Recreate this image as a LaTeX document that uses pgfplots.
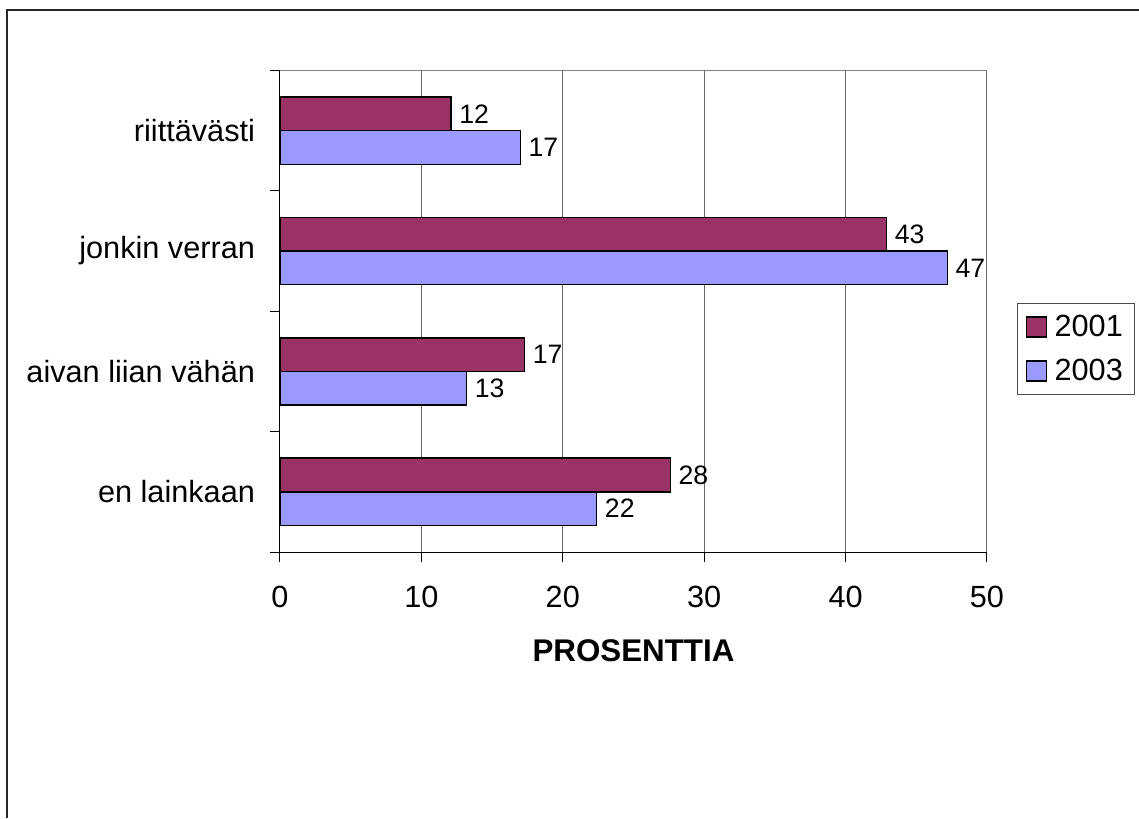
\documentclass[border=0pt]{standalone}
\usepackage{fontspec}
\setmainfont{Liberation Sans}
\usepackage{pgfplots}
\pgfplotsset{compat=1.18}
\definecolor{c2001}{HTML}{993366}
\definecolor{c2003}{HTML}{9999FF}
\begin{document}
\begin{tikzpicture}
\path[use as bounding box] (0pt,0pt) rectangle (683.4pt,490.8pt);
\draw[black!85,line width=0.8pt] (4.2pt,0pt) -- (4.2pt,484.8pt) -- (683.4pt,484.8pt);
\begin{axis}[
  at={(168pt,159.6pt)}, anchor=south west,
  scale only axis, width=424.2pt, height=288.9pt,
  xbar, bar width=20.2pt,
  xmin=0, xmax=50, ymin=-0.5, ymax=3.5,
  axis lines*=left,
  axis line style={black, line width=0.6pt},
  xtick={0,10,20,30,40,50},
  xmajorgrids, grid style={black!60, line width=0.6pt},
  tick align=outside, major tick length=6pt,
  tick style={black, line width=0.6pt},
  ytick={-0.5,0.5,1.5,2.5,3.5}, yticklabels={},
  extra y ticks={0,1,2,3},
  extra y tick labels={en lainkaan, aivan liian vähän, jonkin verran, riittävästi},
  extra y tick style={tick style={draw=none}},
  ticklabel style={font=\fontsize{18.4}{21}\selectfont},
  yticklabel style={xshift=-5.5pt},
  xticklabel style={yshift=-11pt},
  /pgf/number format/assume math mode=true,
  xlabel={\textbf{PROSENTTIA}},
  xlabel style={font=\fontsize{18.8}{21}\selectfont, yshift=-12pt},
  nodes near coords={\pgfmathprintnumber[fixed,precision=0]{\pgfplotspointmeta}},
  nodes near coords style={font=\fontsize{16}{18}\selectfont, anchor=west, inner sep=3pt, xshift=1.5pt},
  clip=false,
  legend style={at={(1.0424,0.517)}, anchor=north west, draw=black!70,
    font=\fontsize{18.4}{21}\selectfont, row sep=8pt, inner xsep=5pt, inner ysep=5pt},
  legend cell align=left,
  legend image code/.code={\draw[#1] (0pt,-6pt) rectangle (12pt,6pt);},
]
\addplot[fill=c2001, draw=black, line width=0.9pt, bar shift=10.1pt]
  coordinates {(27.6,0) (17.3,1) (42.9,2) (12.1,3)};
\addlegendentry{\hspace{2.5pt}2001\hspace{3.5pt}}
\addplot[fill=c2003, draw=black, line width=0.9pt, bar shift=-10.1pt]
  coordinates {(22.4,0) (13.2,1) (47.2,2) (17.0,3)};
\addlegendentry{\hspace{2.5pt}2003\hspace{3.5pt}}
\draw[black!50, line width=0.8pt] (axis cs:0,3.5) -- (axis cs:50,3.5);
\end{axis}
\end{tikzpicture}
\end{document}
